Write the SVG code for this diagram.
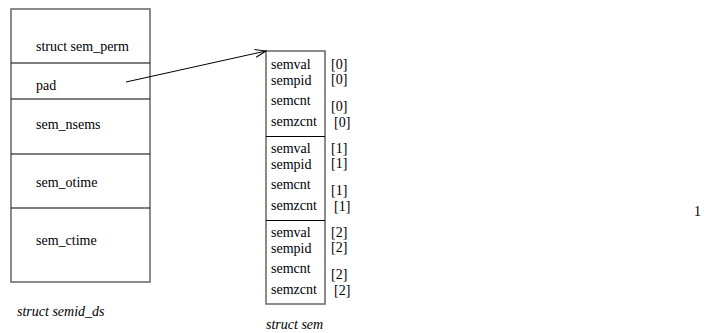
<svg xmlns="http://www.w3.org/2000/svg" width="707" height="333" viewBox="0 0 707 333">
<style>
text{font-family:"Liberation Serif","Times New Roman",serif;font-size:14px;fill:#000}
.it{font-style:italic}
.box{fill:#fff;stroke:#666;stroke-width:1.5}
.div{stroke:#000;stroke-width:1.2}
.conn{stroke:#000;stroke-width:1;fill:none}
</style>
<defs>
<marker id="arr" markerWidth="12" markerHeight="10" refX="11" refY="5" orient="auto" markerUnits="userSpaceOnUse">
<path d="M0,1 L11,5 L0,9" fill="none" stroke="#000" stroke-width="1"/>
</marker>
</defs>
<rect width="707" height="333" fill="#fff"/>
<g id="semid_ds">
<rect class="box" x="11" y="9" width="139" height="273"/>
<line class="div" x1="11" y1="63" x2="150" y2="63"/>
<line class="div" x1="11" y1="99" x2="150" y2="99"/>
<line class="div" x1="11" y1="154" x2="150" y2="154"/>
<line class="div" x1="11" y1="208" x2="150" y2="208"/>
<text x="36" y="51">struct sem_perm</text>
<text x="36" y="90">pad</text>
<text x="36" y="129">sem_nsems</text>
<text x="36" y="187">sem_otime</text>
<text x="36" y="245">sem_ctime</text>
<text class="it" x="17" y="316">struct semid_ds</text>
</g>
<g id="sem">
<rect class="box" x="266" y="51" width="59" height="253"/>
<line class="div" x1="266" y1="136.5" x2="325" y2="136.5"/>
<line class="div" x1="266" y1="220.5" x2="325" y2="220.5"/>
<g id="sem0">
<text x="271" y="69">semval</text><text x="331" y="69">[0]</text>
<text x="271" y="85">sempid</text><text x="331" y="84">[0]</text>
<text x="271" y="105">semcnt</text><text x="331" y="111">[0]</text>
<text x="271" y="126">semzcnt</text><text x="334" y="127">[0]</text>
</g>
<g id="sem1">
<text x="271" y="153">semval</text><text x="331" y="153">[1]</text>
<text x="271" y="169">sempid</text><text x="331" y="168">[1]</text>
<text x="271" y="189">semcnt</text><text x="331" y="195">[1]</text>
<text x="271" y="210">semzcnt</text><text x="334" y="211">[1]</text>
</g>
<g id="sem2">
<text x="271" y="237">semval</text><text x="331" y="237">[2]</text>
<text x="271" y="253">sempid</text><text x="331" y="252">[2]</text>
<text x="271" y="273">semcnt</text><text x="331" y="279">[2]</text>
<text x="271" y="294">semzcnt</text><text x="334" y="295">[2]</text>
</g>
<text class="it" x="266" y="329">struct sem</text>
</g>
<g id="connectors">
<line class="conn" x1="126" y1="82" x2="266" y2="51" marker-end="url(#arr)"/>
</g>
<text x="694" y="216">1</text>
</svg>
